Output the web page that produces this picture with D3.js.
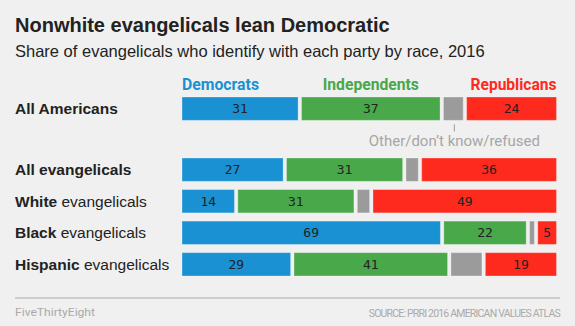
<!DOCTYPE html>
<html>
<head>
<meta charset="utf-8">
<script src="https://cdn.jsdelivr.net/npm/d3@7"></script>
<style>
  body { margin: 0; background: #f0f0f0; }
  svg { display: block; }
</style>
</head>
<body>
<div id="graf"></div>
<script>
// data
groups   = ['All Americans', 'All evangelicals', 'White evangelicals', 'Black evangelicals', 'Hispanic evangelicals']
boldPart = ['All Americans', 'All evangelicals', 'White', 'Black', 'Hispanic']
restPart = ['', '', ' evangelicals', ' evangelicals', ' evangelicals']
dem   = [31, 27, 14, 69, 29]
ind   = [37, 31, 31, 22, 41]
other = [8, 6, 6, 4, 11]
rep   = [24, 36, 49, 5, 19]
parties = ['Democrats', 'Independents', 'Republicans']

ancho_total = 575
alto_total = 326
colors = { dem: '#1a91d2', ind: '#48a84a', other: '#9b9b9b', rep: '#fe2a1d' }
gap = 3.4
font = "'Liberation Sans', Arial, sans-serif"

svg = d3.select('#graf').append('svg')
  .attr('width', ancho_total)
  .attr('height', alto_total)

svg.append('rect').attr('width', ancho_total).attr('height', alto_total).attr('fill', '#f0f0f0')

// titles
svg.append('text')
  .attr('x', 15).attr('y', 32)
  .attr('font-family', font).attr('font-weight', 'bold').attr('font-size', 20)
  .attr('fill', '#222')
  .text('Nonwhite evangelicals lean Democratic')

svg.append('text')
  .attr('x', 15).attr('y', 56.5)
  .attr('font-family', font).attr('font-size', 16.5)
  .attr('fill', '#222')
  .text('Share of evangelicals who identify with each party by race, 2016')

// scales
x0 = 182
x1 = 556.5
x = d3.scaleLinear().domain([0, 100]).range([0, x1 - x0])
y = d3.scaleBand().domain(groups.slice(1)).range([158, 276]).paddingInner(0.26)
bh = y.bandwidth()
rowTop = (g) => g === 'All Americans' ? 97 : y(g)

rows = groups.map((g, i) => ({ group: g, bold: boldPart[i], rest: restPart[i], dem: dem[i], ind: ind[i], other: other[i], rep: rep[i] }))

function segments(d) {
  const demEnd = x0 + x(d.dem)
  const indStart = demEnd + gap
  const indEnd = indStart + x(d.ind)
  const repStart = x1 - x(d.rep)
  return [
    { key: 'dem', x: x0, w: x(d.dem), v: d.dem },
    { key: 'ind', x: indStart, w: x(d.ind), v: d.ind },
    { key: 'other', x: indEnd + gap, w: Math.max(0, repStart - gap - indEnd - gap), v: null },
    { key: 'rep', x: repStart, w: x(d.rep), v: d.rep }
  ]
}

row = svg.selectAll('g.row').data(rows).join('g')
  .attr('class', 'row')
  .attr('transform', d => `translate(0,${rowTop(d.group)})`)

lbl = row.append('text')
  .attr('x', 15).attr('y', bh / 2 + 5.5)
  .attr('font-family', font).attr('font-size', 15.5)
  .attr('fill', '#222')
lbl.append('tspan').attr('font-weight', 'bold').text(d => d.bold)
lbl.append('tspan').text(d => d.rest)

seg = row.selectAll('g.seg').data(d => segments(d)).join('g').attr('class', 'seg')
seg.append('rect')
  .attr('x', s => s.x).attr('y', 0)
  .attr('width', s => s.w).attr('height', bh)
  .attr('fill', s => colors[s.key])
  .attr('stroke', '#fff').attr('stroke-opacity', 0.3).attr('stroke-width', 1)
seg.filter(s => s.v !== null).append('text')
  .attr('x', s => s.x + s.w / 2).attr('y', bh / 2 + 4.5)
  .attr('text-anchor', 'middle')
  .attr('font-family', "'DejaVu Sans Mono', monospace").attr('font-size', 13)
  .attr('fill', '#222')
  .text(s => s.v)

// legend above the first row
first = segments(rows[0])
legend = [
  { t: parties[0], x: first[0].x, anchor: 'start', c: colors.dem, w: 77 },
  { t: parties[1], x: first[1].x + first[1].w / 2, anchor: 'middle', c: colors.ind, w: 96 },
  { t: parties[2], x: x1, anchor: 'end', c: colors.rep, w: 86 }
]
svg.selectAll('text.leg').data(legend).join('text')
  .attr('class', 'leg')
  .attr('x', d => d.x).attr('y', 89.5)
  .attr('text-anchor', d => d.anchor)
  .attr('font-family', "Roboto, sans-serif").attr('font-weight', 'bold').attr('font-size', 16)
  .attr('textLength', d => d.w).attr('lengthAdjust', 'spacingAndGlyphs')
  .attr('fill', d => d.c)
  .text(d => d.t)

// other annotation
o = first[2]
ox = o.x + o.w / 2 + 1
svg.append('line')
  .attr('x1', ox).attr('x2', ox)
  .attr('y1', rowTop(groups[0]) + bh + 4).attr('y2', rowTop(groups[0]) + bh + 11)
  .attr('stroke', '#999').attr('stroke-width', 1)
svg.append('text')
  .attr('x', ox).attr('y', 146)
  .attr('text-anchor', 'middle')
  .attr('font-family', "Roboto, sans-serif").attr('font-size', 15)
  .attr('textLength', 171).attr('lengthAdjust', 'spacingAndGlyphs')
  .attr('fill', '#a6a6a6')
  .text('Other/don\u2019t know/refused')

// footer
svg.append('line')
  .attr('x1', 15).attr('x2', 560).attr('y1', 298).attr('y2', 298)
  .attr('stroke', '#aaa').attr('stroke-width', 1)
svg.append('text')
  .attr('x', 15).attr('y', 316)
  .attr('font-family', "Roboto, sans-serif").attr('font-size', 11.5)
  .attr('textLength', 80).attr('lengthAdjust', 'spacingAndGlyphs')
  .attr('fill', '#aaa')
  .text('FiveThirtyEight')
svg.append('text')
  .attr('x', 560).attr('y', 316.5)
  .attr('text-anchor', 'end')
  .attr('font-family', "Roboto, sans-serif").attr('font-size', 10.5)
  .attr('letter-spacing', -0.8)
  .attr('fill', '#aaa')
  .text('SOURCE: PRRI 2016 AMERICAN VALUES ATLAS')
</script>
</body>
</html>
